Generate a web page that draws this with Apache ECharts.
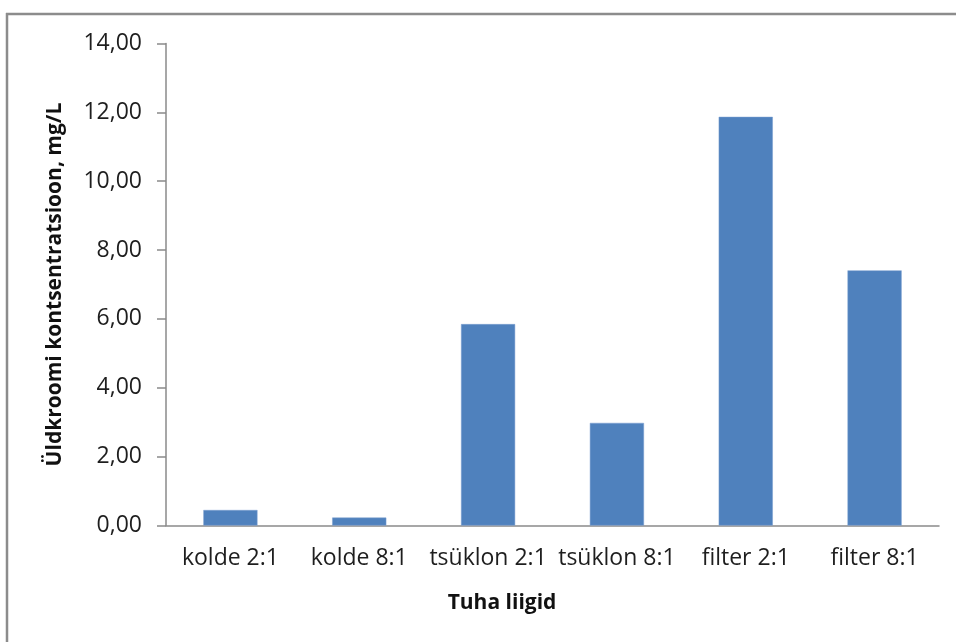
<!DOCTYPE html>
<html>
<head>
<meta charset="utf-8">
<script src="https://cdn.jsdelivr.net/npm/echarts@6/dist/echarts.min.js"></script>
<style>
  html, body { margin: 0; padding: 0; background: #ffffff; }
  #chart { width: 956px; height: 642px; }
</style>
</head>
<body>
<div id="chart"></div>
<script>
// Ash types and total chromium concentration (mg/L)
const categories = ['kolde 2:1', 'kolde 8:1', 'tsüklon 2:1', 'tsüklon 8:1', 'filter 2:1', 'filter 8:1'];
const concentration = [0.45, 0.23, 5.85, 2.98, 11.87, 7.41];
const yTitle = 'Üldkroomi kontsentratsioon, mg/L';
const xTitle = 'Tuha liigid';

const FONT = '"Open Sans", "DejaVu Sans", sans-serif';
const chart = echarts.init(document.getElementById('chart'), null, { renderer: 'canvas' });

chart.setOption({
  animation: false,
  backgroundColor: '#ffffff',
  grid: { left: 166, right: 17, top: 43.5, bottom: 116.5, containLabel: false },
  xAxis: {
    type: 'category',
    data: categories,
    axisLine: { lineStyle: { color: '#8a8a8a', width: 1.5 } },
    axisTick: { show: false },
    axisLabel: { color: '#1e1e1e', fontFamily: FONT, fontSize: 23, margin: 21, interval: 0 }
  },
  yAxis: {
    type: 'value',
    min: 0,
    max: 14,
    interval: 2,
    name: yTitle,
    nameLocation: 'middle',
    nameRotate: 90,
    nameGap: 100,
    nameTextStyle: { color: '#111111', fontFamily: FONT, fontSize: 21, fontWeight: 'bold' },
    axisLine: { show: true, lineStyle: { color: '#8a8a8a', width: 1.5 } },
    axisTick: { show: true, inside: false, length: 9, lineStyle: { color: '#8a8a8a', width: 1.5 } },
    splitLine: { show: false },
    axisLabel: {
      color: '#1e1e1e', fontFamily: FONT, fontSize: 23, margin: 24,
      formatter: v => v.toFixed(2).replace('.', ',')
    }
  },
  series: [{
    type: 'bar',
    data: concentration,
    barCategoryGap: '58%',
    itemStyle: { color: '#4f81bd', borderColor: '#7a9fd0', borderWidth: 0.5 }
  }],
  graphic: [
    { type: 'line', shape: { x1: 6, y1: 14, x2: 956, y2: 14 }, style: { stroke: '#8c8c8c', lineWidth: 2.5 } },
    { type: 'line', shape: { x1: 7, y1: 13, x2: 7, y2: 642 }, style: { stroke: '#8c8c8c', lineWidth: 2.5 } },
    {
      type: 'text', x: 502, y: 603,
      style: { text: xTitle, fill: '#111111', font: 'bold 21px ' + FONT, align: 'center', verticalAlign: 'middle' }
    }
  ]
});
</script>
</body>
</html>
